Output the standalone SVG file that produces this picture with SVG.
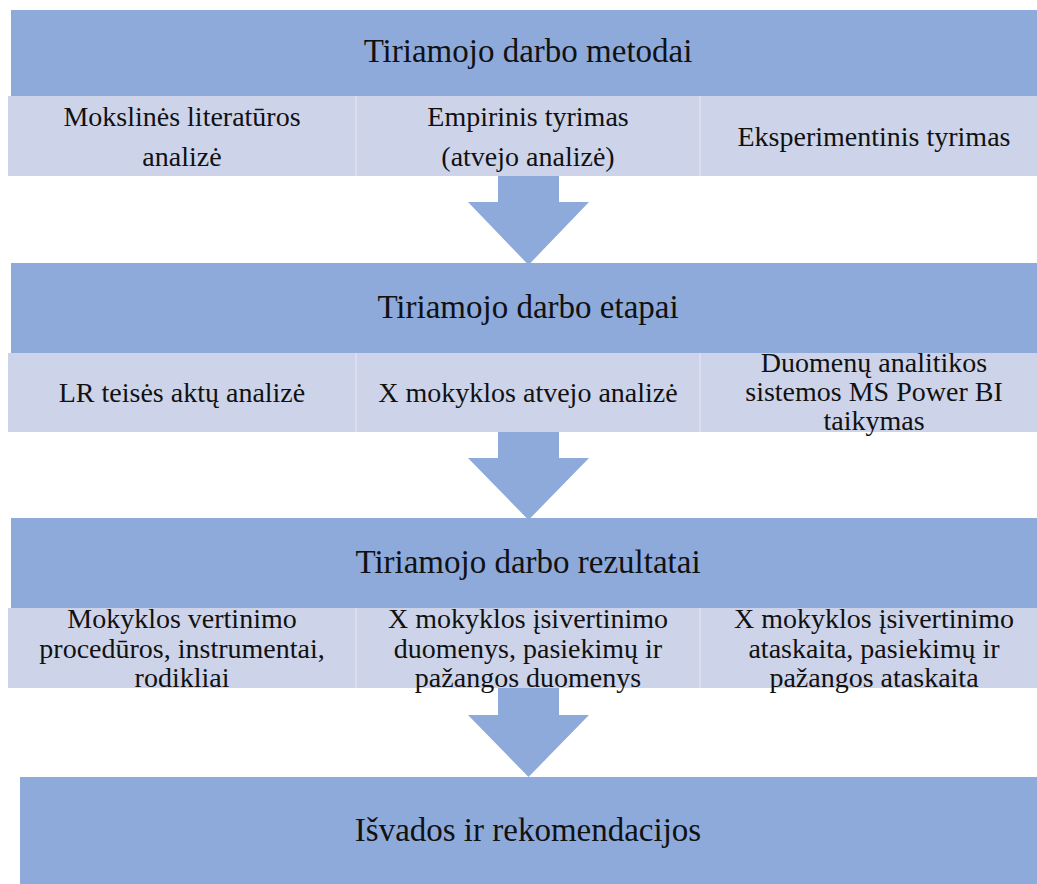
<svg xmlns="http://www.w3.org/2000/svg" width="1037" height="884" viewBox="0 0 1037 884">
<style>
.hdr{fill:#8eaadb}
.sub{fill:#cdd4e9}
.div{stroke:#dce1ef;stroke-width:1.5}
.ht{font-family:"Liberation Serif","Times New Roman",serif;font-size:33px;fill:#111;text-anchor:middle}
.st{font-family:"Liberation Serif","Times New Roman",serif;font-size:28px;fill:#111;text-anchor:middle}
.arr{fill:#8eaadb}
</style>
<rect width="1037" height="884" fill="#ffffff"/>
<g id="connectors">
  <polygon class="arr" points="498,176 559,176 559,202 589,202 528.5,265 468,202 498,202"/>
  <polygon class="arr" points="498,432 559,432 559,458 589,458 528.5,520 468,458 498,458"/>
  <polygon class="arr" points="498,688 559,688 559,715 589,715 528.5,777 468,715 498,715"/>
</g>
<g id="methods">
  <rect class="hdr" x="11" y="10" width="1040" height="86"/>
  <text class="ht" x="528" y="62">Tiriamojo darbo metodai</text>
  <rect class="sub" x="8" y="96" width="1043" height="80"/>
  <line class="div" x1="356" y1="96" x2="356" y2="176"/>
  <line class="div" x1="700" y1="96" x2="700" y2="176"/>
  <text class="st" x="182" y="126">Mokslinės literatūros</text>
  <text class="st" x="182" y="166">analizė</text>
  <text class="st" x="528" y="126">Empirinis tyrimas</text>
  <text class="st" x="528" y="166">(atvejo analizė)</text>
  <text class="st" x="874" y="146">Eksperimentinis tyrimas</text>
</g>
<g id="stages">
  <rect class="hdr" x="11" y="263" width="1040" height="90"/>
  <text class="ht" x="528" y="318">Tiriamojo darbo etapai</text>
  <rect class="sub" x="8" y="353" width="1043" height="79"/>
  <line class="div" x1="356" y1="353" x2="356" y2="432"/>
  <line class="div" x1="700" y1="353" x2="700" y2="432"/>
  <text class="st" x="182" y="402">LR teisės aktų analizė</text>
  <text class="st" x="528" y="402">X mokyklos atvejo analizė</text>
  <text class="st" x="874" y="372">Duomenų analitikos</text>
  <text class="st" x="874" y="401">sistemos MS Power BI</text>
  <text class="st" x="874" y="430">taikymas</text>
</g>
<g id="results">
  <rect class="hdr" x="11" y="518" width="1040" height="90"/>
  <text class="ht" x="528" y="573">Tiriamojo darbo rezultatai</text>
  <rect class="sub" x="8" y="608" width="1043" height="80"/>
  <line class="div" x1="356" y1="608" x2="356" y2="688"/>
  <line class="div" x1="700" y1="608" x2="700" y2="688"/>
  <text class="st" x="182" y="628">Mokyklos vertinimo</text>
  <text class="st" x="182" y="658">procedūros, instrumentai,</text>
  <text class="st" x="182" y="687">rodikliai</text>
  <text class="st" x="528" y="628">X mokyklos įsivertinimo</text>
  <text class="st" x="528" y="658">duomenys, pasiekimų ir</text>
  <text class="st" x="528" y="687">pažangos duomenys</text>
  <text class="st" x="874" y="628">X mokyklos įsivertinimo</text>
  <text class="st" x="874" y="658">ataskaita, pasiekimų ir</text>
  <text class="st" x="874" y="687">pažangos ataskaita</text>
</g>
<g id="conclusions">
  <rect class="hdr" x="20" y="777" width="1031" height="120"/>
  <text class="ht" x="528" y="841">Išvados ir rekomendacijos</text>
</g>
</svg>
